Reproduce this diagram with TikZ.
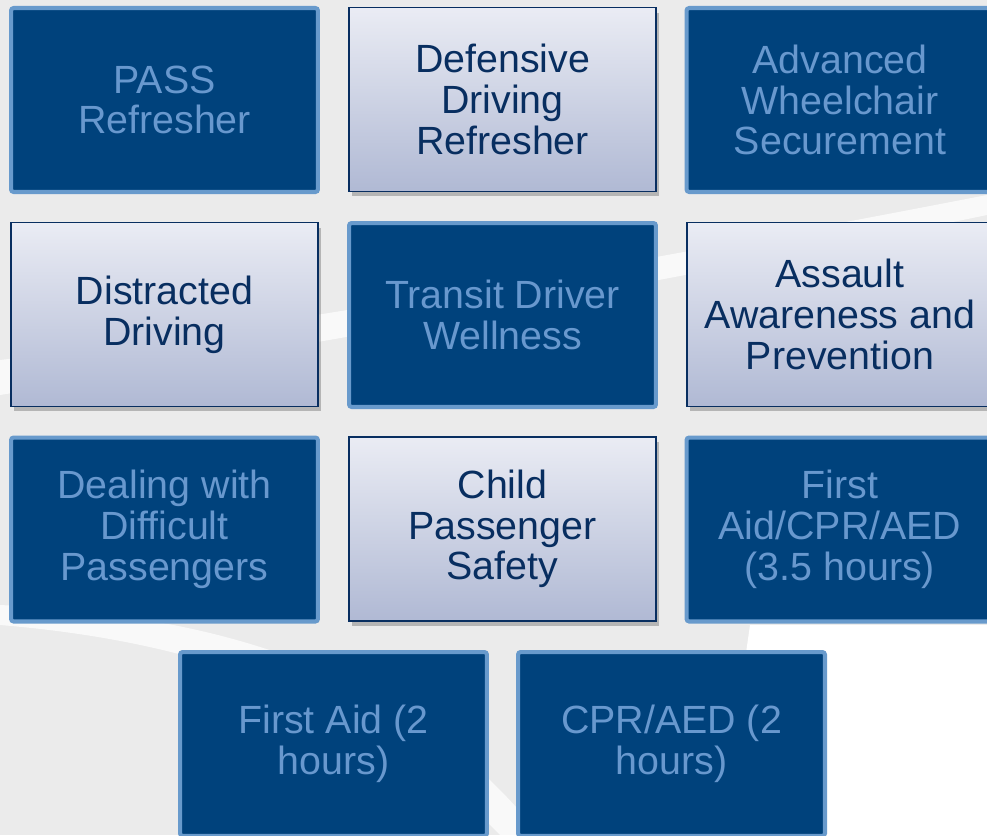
\documentclass[tikz,border=0pt]{standalone}
\usepackage{fontspec}
\setmainfont{Liberation Sans}
\usetikzlibrary{shadows}
\definecolor{navyfill}{RGB}{0,66,124}
\definecolor{skyline}{RGB}{104,154,204}
\definecolor{skytext}{RGB}{104,152,206}
\definecolor{inkblue}{RGB}{8,46,96}
\definecolor{paletop}{RGB}{234,236,244}
\definecolor{palebot}{RGB}{176,185,212}
\definecolor{bggray}{RGB}{235,235,235}
\tikzset{
  darkbox/.style={draw=skyline, line width=2.3pt, fill=navyfill, rounded corners=1.5pt,
    text=skytext, minimum width=6.14cm, minimum height=3.68cm, align=center,
    font=\fontsize{22.4}{23.2}\selectfont},
  lightbox/.style={draw=inkblue, line width=1.1pt, top color=paletop, bottom color=palebot,
    text=inkblue, minimum width=6.14cm, minimum height=3.68cm, align=center,
    font=\fontsize{22.4}{23.2}\selectfont,
    drop shadow={shadow xshift=0.06cm, shadow yshift=-0.1cm, fill=black!60, opacity=0.4}},
}

\begin{document}
\begin{tikzpicture}[x=0.02cm, y=-0.02cm]
\useasboundingbox (0,0) rectangle (987,835);
\clip (0,0) rectangle (987,835);
% background
\fill[bggray] (0,0) rectangle (987,835);
\fill[white, opacity=0.7] (0,360) .. controls (250,330) and (600,270) .. (987,195) -- (987,215) .. controls (600,295) and (250,355) .. (0,395) -- cycle;
\fill[white, opacity=0.7] (0,605) .. controls (200,615) and (400,660) .. (540,835) -- (500,835) .. controls (360,690) and (180,640) .. (0,625) -- cycle;
\fill[white] (750,625) -- (987,625) -- (987,835) -- (720,835) -- cycle;

% row 1
\node[darkbox] (pass) at (164.5,100) {PASS\\Refresher};
\node[lightbox] (defensive) at (502.5,99.5) {Defensive\\Driving\\Refresher};
\node[darkbox] (wheelchair) at (840,100) {Advanced\\Wheelchair\\Securement};
% row 2
\node[lightbox] (distracted) at (164.5,314.5) {Distracted\\Driving};
\node[darkbox] (wellness) at (502.5,315) {Transit Driver\\Wellness};
\node[lightbox] (assault) at (840,314.5) {Assault\\Awareness and\\Prevention};
% row 3
\node[darkbox] (difficult) at (164.5,529.5) {Dealing with\\Difficult\\Passengers};
\node[lightbox] (child) at (502.5,529) {Child\\Passenger\\Safety};
\node[darkbox] (firstcpr) at (840,529.5) {First\\Aid/CPR/AED\\(3.5 hours)};
% row 4
\node[darkbox] (firstaid) at (333.5,744) {First Aid (2\\hours)};
\node[darkbox] (cpraed) at (671.5,744) {CPR/AED (2\\hours)};
\end{tikzpicture}
\end{document}
